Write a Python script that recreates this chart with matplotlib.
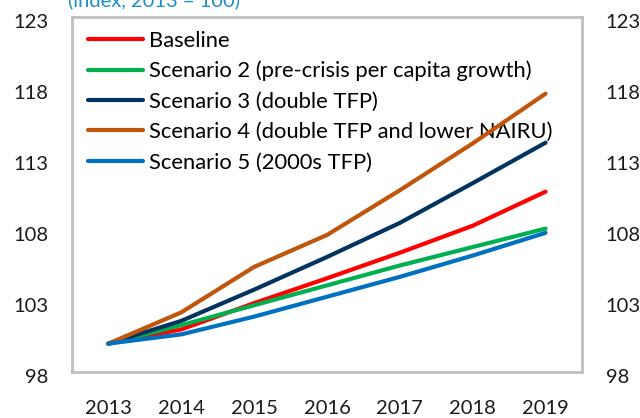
import matplotlib
matplotlib.use("Agg")
import matplotlib.pyplot as plt
import matplotlib.transforms as mtransforms

# data (index, 2013 = 100)
years = ["2013", "2014", "2015", "2016", "2017", "2018", "2019"]
baseline = [100.0, 101.0, 102.85, 104.6, 106.4, 108.3, 110.7]
scenario2 = [100.0, 101.3, 102.7, 104.1, 105.5, 106.8, 108.1]
scenario3 = [100.0, 101.6, 103.8, 106.1, 108.5, 111.3, 114.15]
scenario4 = [100.0, 102.2, 105.4, 107.65, 110.8, 114.1, 117.6]
scenario5 = [100.0, 100.65, 101.9, 103.3, 104.7, 106.2, 107.8]

labels = [
    "Baseline",
    "Scenario 2 (pre-crisis per capita growth)",
    "Scenario 3 (double TFP)",
    "Scenario 4 (double TFP and lower NAIRU)",
    "Scenario 5 (2000s TFP)",
]
colors = ["#ff0000", "#00b050", "#00335f", "#c0560b", "#0070c0"]
yticks = [98, 103, 108, 113, 118, 123]

plt.rcParams["font.family"] = ["Lato", "DejaVu Sans"]

fig = plt.figure(figsize=(6.4, 4.18), dpi=100)
ax = fig.add_axes([72 / 640, 1 - 372 / 418, 510 / 640, 355 / 418])

x = list(range(len(years)))
series = [baseline, scenario2, scenario3, scenario4, scenario5]
for vals, lab, col in zip(series, labels, colors):
    ax.plot(x, vals, color=col, lw=3.0, label=lab, solid_capstyle="round", zorder=3)

ax.set_xlim(-0.5, len(years) - 0.5)
ax.set_ylim(98, 123)
ax.set_xticks(x)
ax.set_xticklabels(years)
ax.set_yticks(yticks)
ax.set_yticklabels([str(t) for t in yticks])
ax.tick_params(axis="both", length=0, labelsize=14.5, colors="#1a1a1a")
ax.tick_params(axis="x", pad=20)
ax.tick_params(axis="y", pad=17, labelright=True)

# Excel draws the value labels a few pixels lower than the gridline position
offset = mtransforms.ScaledTranslation(0, -4 / 100, fig.dpi_scale_trans)
for t in ax.yaxis.get_major_ticks():
    for lab in (t.label1, t.label2):
        lab.set_transform(lab.get_transform() + offset)

for sp in ax.spines.values():
    sp.set_color("#bfbfbf")
    sp.set_linewidth(2)

leg = ax.legend(loc="upper left", bbox_to_anchor=(0.027, 0.968), frameon=False,
                fontsize=15.8, handlelength=2.5, handletextpad=0.27,
                labelspacing=0.47, borderaxespad=0, borderpad=0.1)
leg.set_zorder(1)
for h in leg.get_lines():
    h.set_linewidth(3.0)

# chart subtitle, partly cut off at the top edge as in the source image
fig.text(68 / 640, 1 - 9 / 418, "(index, 2013 = 100)", color="#1b8ec6",
         fontsize=14.5, va="bottom", ha="left")

fig.savefig("out.png", dpi=100)
